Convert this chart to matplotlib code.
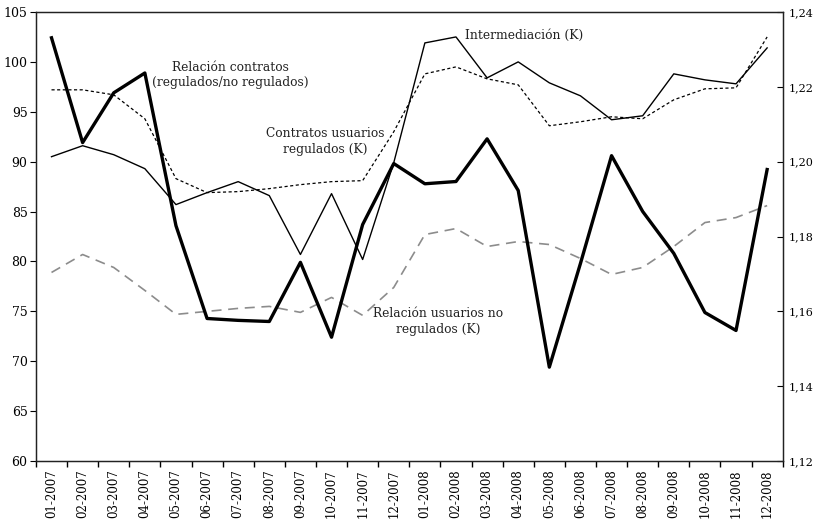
import matplotlib
matplotlib.use("Agg")
import matplotlib.pyplot as plt
from matplotlib.ticker import FuncFormatter, FixedLocator
import numpy as np

months = ["01-2007", "02-2007", "03-2007", "04-2007", "05-2007", "06-2007",
          "07-2007", "08-2007", "09-2007", "10-2007", "11-2007", "12-2007",
          "01-2008", "02-2008", "03-2008", "04-2008", "05-2008", "06-2008",
          "07-2008", "08-2008", "09-2008", "10-2008", "11-2008", "12-2008"]

intermediacion = [90.5, 91.6, 90.7, 89.3, 85.7, 86.9, 88.0, 86.6, 80.7, 86.8, 80.2, 89.9,
                  101.9, 102.5, 98.4, 100.0, 97.9, 96.6, 94.2, 94.6, 98.8, 98.2, 97.8, 101.4]

contratos_regulados = [97.2, 97.2, 96.7, 94.3, 88.3, 86.9, 87.0, 87.3, 87.7, 88.0, 88.1, 93.0,
                       98.8, 99.5, 98.3, 97.7, 93.6, 94.0, 94.5, 94.3, 96.2, 97.3, 97.4, 102.5]

usuarios_no_regulados = [78.9, 80.7, 79.4, 77.1, 74.7, 75.0, 75.3, 75.5, 74.9, 76.4, 74.6, 77.4,
                         82.7, 83.3, 81.5, 82.0, 81.7, 80.3, 78.7, 79.4, 81.5, 83.9, 84.4, 85.6]

relacion_contratos = [1.2331, 1.2051, 1.2184, 1.2237, 1.1829, 1.1581, 1.1576, 1.1573,
                      1.1731, 1.1531, 1.1832, 1.1995, 1.1941, 1.1947, 1.2061, 1.1923,
                      1.1451, 1.1728, 1.2016, 1.1867, 1.1755, 1.1597, 1.1549, 1.1979]

left_ticks = [60, 65, 70, 75, 80, 85, 90, 95, 100, 105]
right_ticks = [1.12, 1.14, 1.16, 1.18, 1.20, 1.22, 1.24]

plt.rcParams['font.family'] = ['DejaVu Serif']

fig = plt.figure(figsize=(8.17, 5.21), dpi=100)
ax = fig.add_axes([0.044, 0.115, 0.914, 0.862])
ax2 = ax.twinx()

x = np.arange(len(months))

ax.plot(x, usuarios_no_regulados, color="#8c8c8c", lw=1.2, linestyle=(0, (6, 4)))
ax.plot(x, contratos_regulados, color="black", lw=0.9, linestyle=(0, (2.5, 2)))
ax.plot(x, intermediacion, color="black", lw=1.0)
ax2.plot(x, relacion_contratos, color="black", lw=2.4)

ax.set_xlim(-0.5, len(months) - 0.5)
ax.set_ylim(60, 105)
ax2.set_ylim(1.12, 1.24)
ax.set_yticks(left_ticks)
ax2.set_yticks(right_ticks)
ax2.yaxis.set_major_formatter(FuncFormatter(lambda v, p: f"{v:.2f}".replace(".", ",")))

ax.set_xticks(x)
ax.set_xticklabels(months, rotation=90, fontsize=8.5)
ax.xaxis.set_minor_locator(FixedLocator(np.arange(-0.5, len(months), 1.0)))
ax.tick_params(axis="x", which="major", length=0, pad=6)
ax.tick_params(axis="x", which="minor", length=4, direction="out", width=1)
ax.tick_params(axis="y", length=4, direction="out", labelsize=9, pad=2)
ax2.tick_params(axis="y", length=4, direction="in", labelsize=8, pad=4)

for a in (ax, ax2):
    for s in a.spines.values():
        s.set_linewidth(0.9)
        s.set_color("#222222")

tkw = dict(fontsize=8.8, ha="center", va="center", linespacing=1.25, color="#222222")
ax.text(5.75, 98.7, "Relación contratos\n(regulados/no regulados)", **tkw)
ax.text(8.8, 92.0, "Contratos usuarios\nregulados (K)", **tkw)
ax.text(15.2, 102.6, "Intermediación (K)", **tkw)
ax.text(12.43, 74.0, "Relación usuarios no\nregulados (K)", **tkw)

fig.savefig("out.png", dpi=100)
